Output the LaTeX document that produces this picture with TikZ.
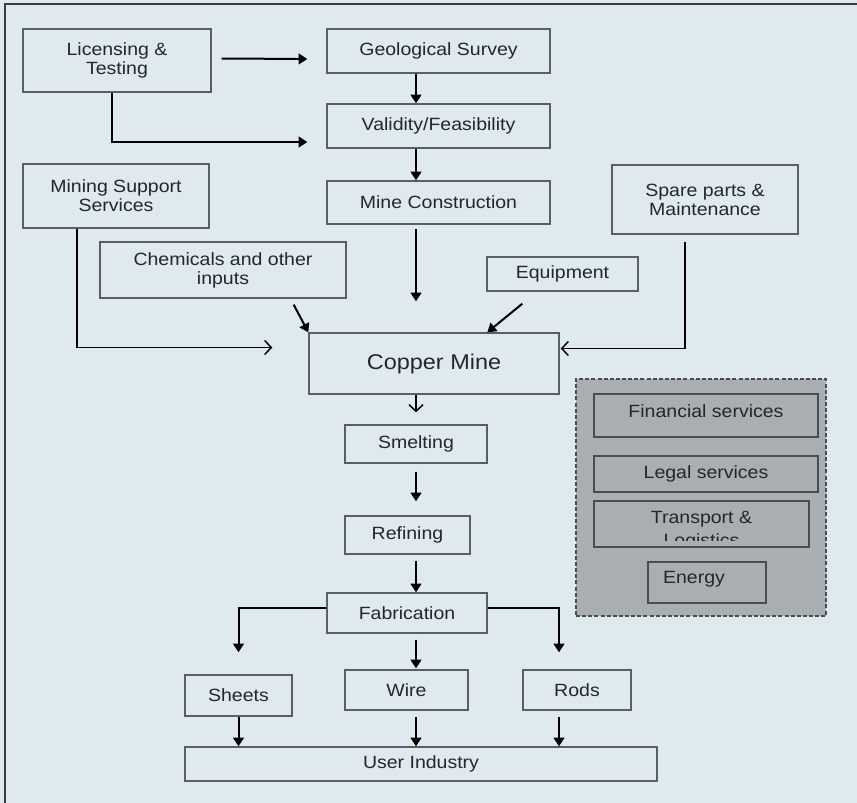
\documentclass[tikz,border=0pt]{standalone}
\usepackage{fontspec}
\setmainfont{Liberation Sans}[FakeStretch=1.1]
\usetikzlibrary{arrows.meta,calc}
\definecolor{bg}{HTML}{DFE9F0}
\definecolor{panel}{HTML}{A9AEB1}
\definecolor{edge}{HTML}{5C5F62}
\definecolor{ink}{HTML}{262626}
\definecolor{frame}{HTML}{3A3D40}
\begin{document}
\begin{tikzpicture}[x=0.75pt,y=-0.75pt,
  lbl/.style={font=\fontsize{13.3}{14.3}\selectfont, text=ink, align=center},
  bx/.style 2 args={lbl, draw=edge, line width=1pt, fill=bg, inner sep=0pt,
    minimum width=#1*0.75pt, minimum height=#2*0.75pt},
  inbx/.style 2 args={bx={#1}{#2}, fill=panel, draw=edge!80!black, line width=1.1pt},
  arr/.style={draw=black, line width=1.5pt, -{Triangle[length=6.5pt,width=8pt]}},
  openarr/.style={draw=black, line width=1.3pt, -{Straight Barb[length=5pt,width=10.5pt,line width=1.1pt]}}
]
% canvas and frame
\useasboundingbox (0,0) rectangle (857,803);
\fill[bg] (0,0) rectangle (857,803);
\draw[frame, line width=1.5pt] (5,803) -- (5,4) -- (857,4);

% exploration and construction chain
\node[bx={188}{63}] (lic) at (117,60.5) {Licensing \&\\Testing};
\node[bx={223}{44}] (geo) at (438.5,51) {Geological Survey};
\node[bx={223}{44}] (val) at (438.5,126) {Validity/Feasibility};
\node[bx={223}{43}] (mc) at (438.5,202.5) {Mine Construction};

% inputs to the mine
\node[bx={186}{64}] (mss) at (116,196) {Mining Support\\Services};
\node[bx={186}{69}] (spare) at (705,199.5) {Spare parts \&\\Maintenance};
\node[bx={246}{56}] (chem) at (223,270) {Chemicals and other\\inputs};
\node[bx={151}{34}] (equip) at (562.5,274) {Equipment};
\node[bx={250}{61}, font=\fontsize{16}{18}\selectfont] (cm) at (434,363.5) {Copper Mine};

% processing chain
\node[bx={142}{38}] (smelt) at (416,444) {Smelting};
\node[bx={125}{38}] (ref) at (407.5,535) {Refining};
\node[bx={160}{40}] (fab) at (407,613) {Fabrication};
\node[bx={107}{41}] (sheets) at (238.5,695.5) {Sheets};
\node[bx={123}{40}] (wire) at (406.5,690) {Wire};
\node[bx={108}{40}] (rods) at (577,690) {Rods};
\node[bx={472}{34}] (ui) at (421,764) {User Industry};

% supporting services panel
\node[draw=edge!80!black, fill=panel, line width=1.1pt, dash pattern=on 3pt off 1.6pt,
      minimum width=250*0.75pt, minimum height=237*0.75pt, inner sep=0pt] (svc) at (701,497.5) {};
\node[inbx={224}{43}] (fin) at (706,415.5) {};
\node[lbl] (fintext) at (706,411) {Financial services};
\node[inbx={224}{36}] (legal) at (706,474) {Legal services};
\node[inbx={215}{46}] (trans) at (701.5,524) {};
\begin{scope}
  \clip (595,502) rectangle (808,540);
  \node[lbl, inner sep=0pt, anchor=north] (transtext) at (701.5,511) {Transport \&\\[3pt]Logistics};
\end{scope}
\node[inbx={118}{41}] (energy) at (707,582.5) {};
\node[lbl] (energytext) at (694,579) {Energy};

% connectors
\draw[arr] ($(lic.east)+(10,-2)$) -- ($(geo.west)+(-19,8)$);
\draw[arr] ($(lic.south)+(-5,0)$) |- ($(val.west)+(-19,16)$);
\draw[arr] (geo.south -| smelt.center) -- (val.north -| smelt.center);
\draw[arr] (val.south -| smelt.center) -- (mc.north -| smelt.center);
\draw[arr] ($(mc.south -| smelt.center)+(0,4)$) -- ($(cm.north -| smelt.center)+(0,-31)$);
\draw[arr] ($(chem.south east)+(-53,6)$) -- (cm.north west);
\draw[arr] ($(equip.south west)+(36,12)$) -- ($(cm.north west)+(179,0)$);
\draw[openarr] ($(mss.south)+(-39,0)$) |- ($(cm.west)+(-36,-16)$);
\draw[openarr] ($(spare.south)+(-20,7)$) |- ($(cm.east)+(1,-15)$);
\draw[openarr] (cm.south -| smelt.center) -- ($(smelt.north)+(0,-12)$);
\draw[arr] ($(smelt.south)+(0,8)$) -- ($(ref.north -| smelt.center)+(0,-14)$);
\draw[arr] ($(ref.south -| smelt.center)+(0,6)$) -- (fab.north -| smelt.center);
\draw[arr] ($(fab.west)+(0,-5)$) -| ($(sheets.north)+(0,-22)$);
\draw[arr] ($(fab.east)+(0,-5)$) -| ($(rods.north)+(-18,-17)$);
\draw[arr] ($(fab.south -| smelt.center)+(0,6)$) -- ($(wire.north -| smelt.center)+(0,-1)$);
\draw[arr] (sheets.south) -- (sheets.south |- ui.north);
\draw[arr] ($(wire.south -| smelt.center)+(0,6)$) -- (ui.north -| smelt.center);
\draw[arr] ($(rods.south)+(-18,6)$) -- ($(rods.south |- ui.north)+(-18,0)$);
\end{tikzpicture}
\end{document}
